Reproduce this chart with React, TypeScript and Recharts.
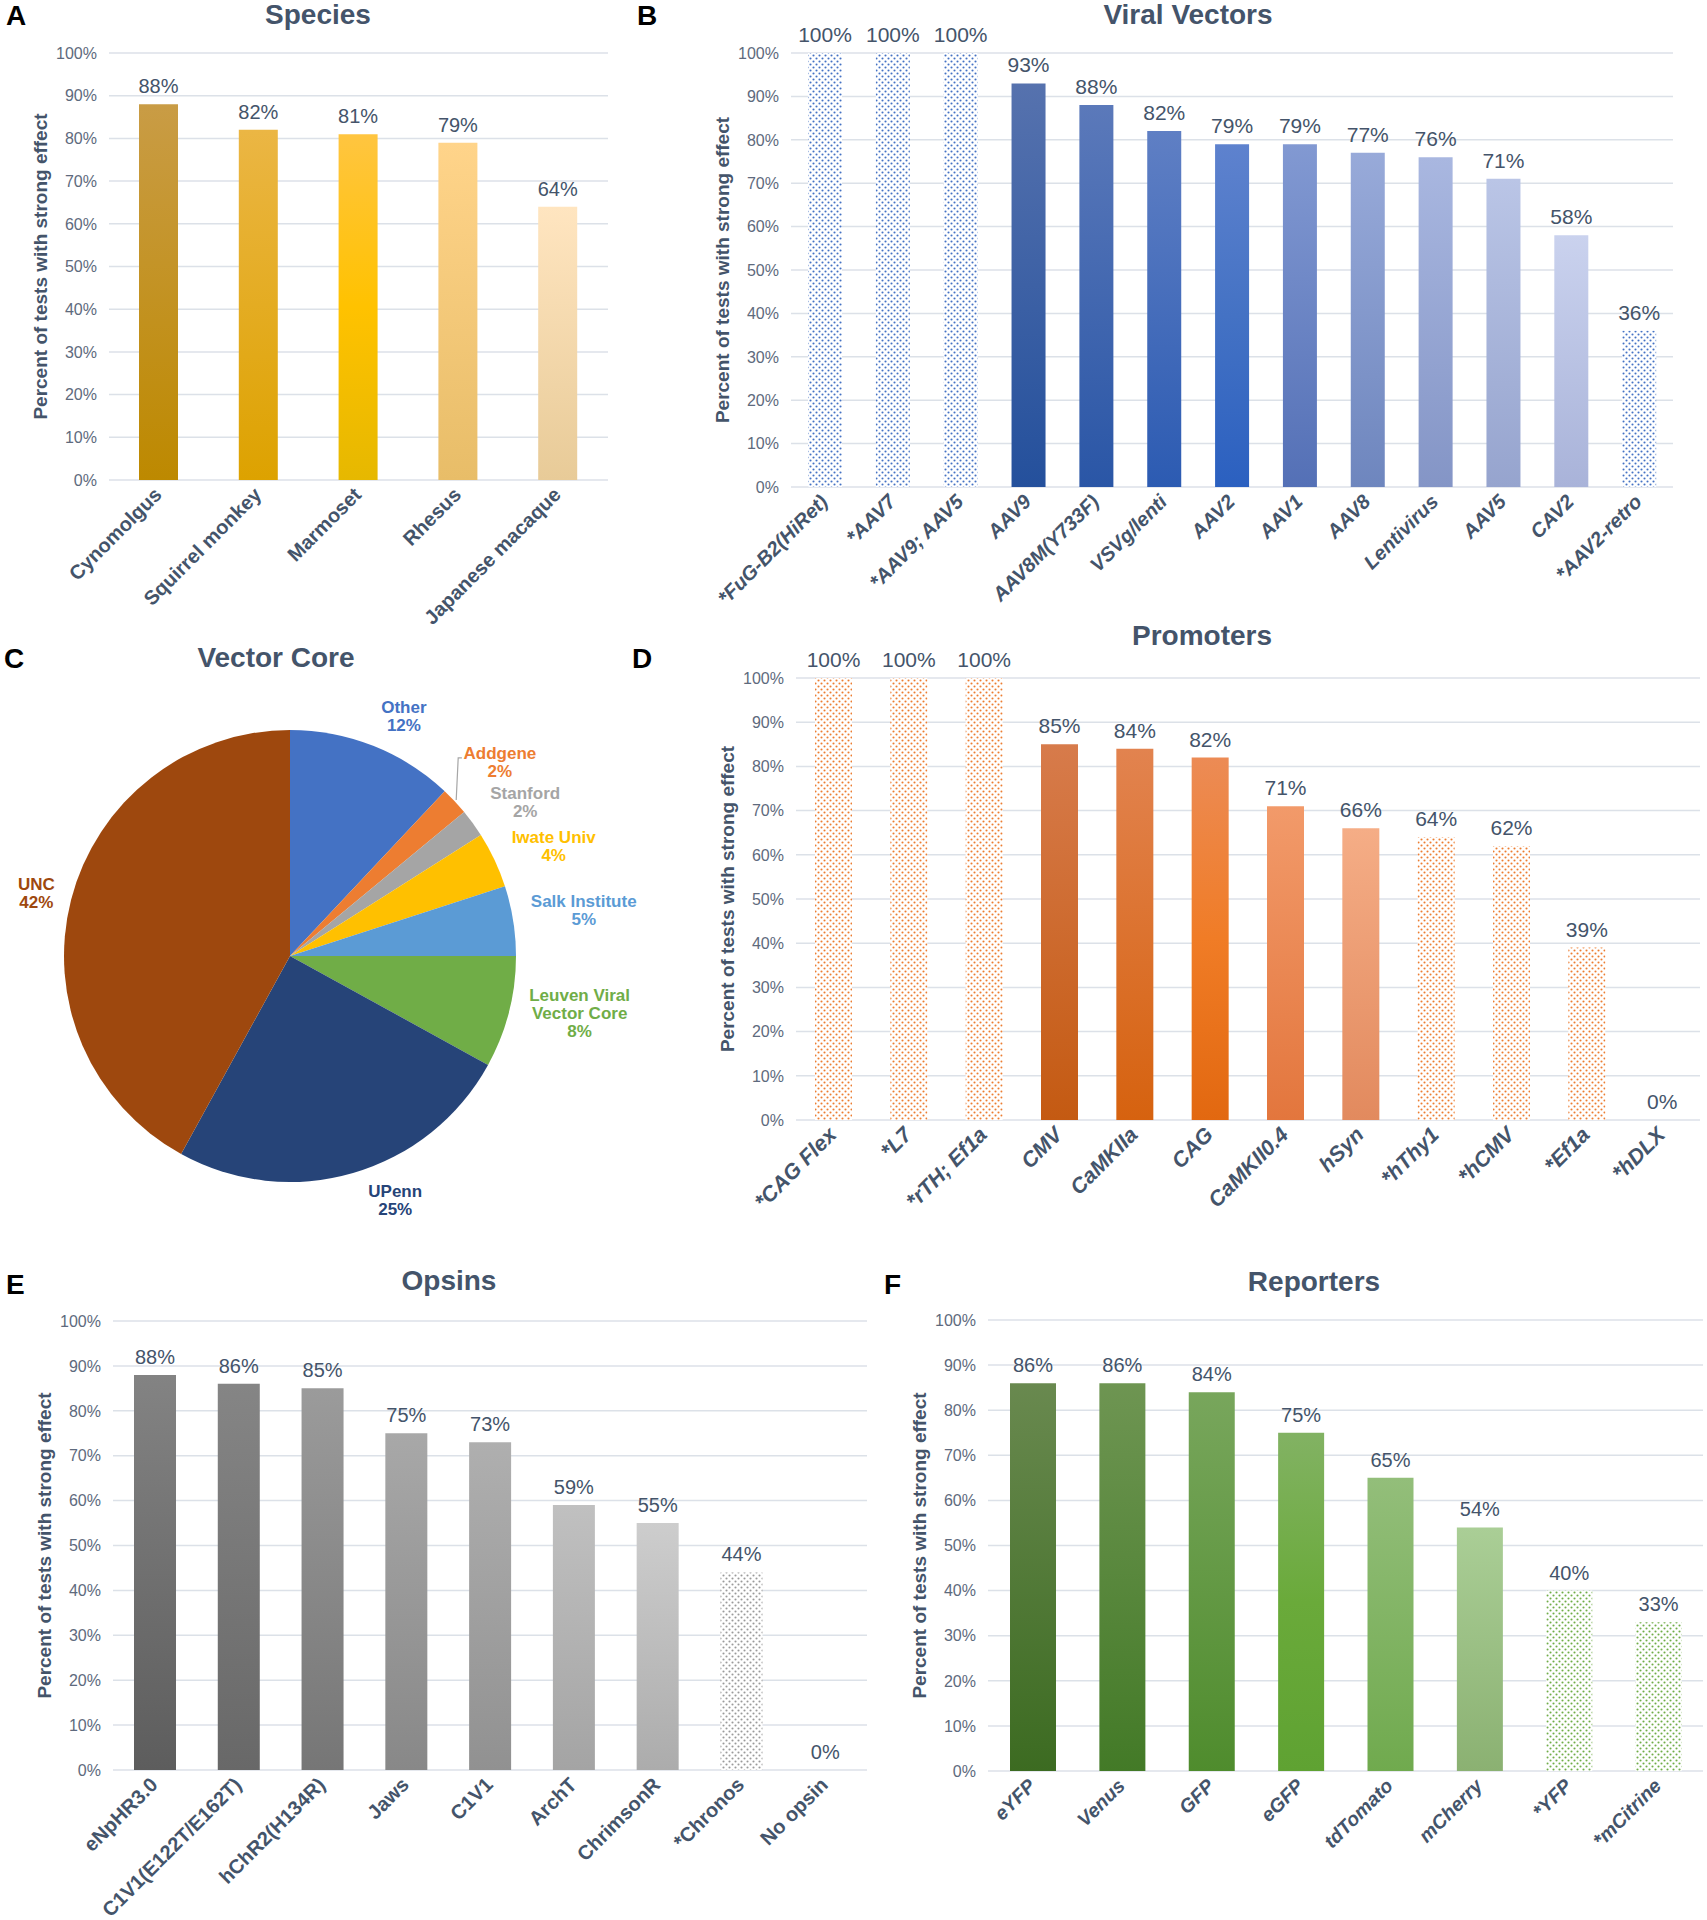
import React from "react";
import { BarChart, Bar, XAxis, YAxis, CartesianGrid, Cell, LabelList, PieChart, Pie } from "recharts";

const FONT = '"Liberation Sans", Arial, sans-serif';
const TEXT = "#44546A";
const TICK = "#5E6A7D";
const GRID = "#DCE1E8";

// ---- data ----
const yTicks = [0, 10, 20, 30, 40, 50, 60, 70, 80, 90, 100];

const speciesNames = ["Cynomolgus", "Squirrel monkey", "Marmoset", "Rhesus", "Japanese macaque"];
const speciesValues = [88, 82, 81, 79, 64];

const vectorNames = [
    "*FuG-B2(HiRet)", "*AAV7", "*AAV9; AAV5", "AAV9", "AAV8M(Y733F)", "VSVg/lenti",
    "AAV2", "AAV1", "AAV8", "Lentivirus", "AAV5", "CAV2", "*AAV2-retro",
];
const vectorValues = [100, 100, 100, 93, 88, 82, 79, 79, 77, 76, 71, 58, 36];

const coreNames = ["Other", "Addgene", "Stanford", "Iwate Univ", "Salk Institute", "Leuven Viral\nVector Core", "UPenn", "UNC"];
const coreValues = [12, 2, 2, 4, 5, 8, 25, 42];

const promoterNames = [
    "*CAG Flex", "*L7", "*rTH; Ef1a", "CMV", "CaMKIIa", "CAG", "CaMKII0.4",
    "hSyn", "*hThy1", "*hCMV", "*Ef1a", "*hDLX",
];
const promoterValues = [100, 100, 100, 85, 84, 82, 71, 66, 64, 62, 39, 0];

const opsinNames = ["eNpHR3.0", "C1V1(E122T/E162T)", "hChR2(H134R)", "Jaws", "C1V1", "ArchT", "ChrimsonR", "*Chronos", "No opsin"];
const opsinValues = [88, 86, 85, 75, 73, 59, 55, 44, 0];

const reporterNames = ["eYFP", "Venus", "GFP", "eGFP", "tdTomato", "mCherry", "*YFP", "*mCitrine"];
const reporterValues = [86, 86, 84, 75, 65, 54, 40, 33];

// ---- styles (gradient stops top -> bottom for the solid bars, in order) ----
const speciesColors = [
    ["#C99C45", "#BD8900"],
    ["#EBB644", "#DDA200"],
    ["#FFC540", "#FFC200", "#E6B800"],
    ["#FFD48A", "#E8BD68"],
    ["#FFE5C0", "#E8CB98"],
];
const vectorColors = [
    ["#5672AE", "#24509C"],
    ["#5B79BA", "#2A56A6"],
    ["#5F7FC4", "#2C5BB2"],
    ["#5E82CE", "#4472C4", "#2B60C0"],
    ["#8299D2", "#5470B6"],
    ["#98AAD9", "#6E86BE"],
    ["#A9B7E0", "#8495C6"],
    ["#BAC5E6", "#96A4CE"],
    ["#CAD2EE", "#A9B3D9"],
];
const promoterColors = [
    ["#D77B4B", "#C45A12"],
    ["#E2834F", "#D6620F"],
    ["#EC8B55", "#F07C26", "#E26810"],
    ["#F29A6A", "#E3763D"],
    ["#F5AD86", "#E28A5E"],
];
const opsinColors = [
    ["#838383", "#5D5D5D"],
    ["#858585", "#686868"],
    ["#9B9B9B", "#767676"],
    ["#A8A8A8", "#888888"],
    ["#AFAFAF", "#919191"],
    ["#C0C0C0", "#A4A4A4"],
    ["#CDCDCD", "#ACACAC"],
];
const reporterColors = [
    ["#69894F", "#3C6B21"],
    ["#6E9552", "#437A27"],
    ["#78A65C", "#4F8C2D"],
    ["#82B263", "#6AAA3A", "#5FA232"],
    ["#93BE7A", "#70AA4E"],
    ["#AACE96", "#8BB172"],
];
const pieColors = ["#4472C4", "#ED7D31", "#A5A5A5", "#FFC000", "#5B9BD5", "#70AD47", "#264478", "#9E480E"];
const pieLabelNudge = [[16, 7], [16, -12], [20, 2], [23, 3], [31, -4], [32, -9], [31, -11], [4, 3]];

const XTick = ({ x, y, payload, italic, size }: any) => (
    <text
        transform={`translate(${x + 4},${y + 16}) rotate(-45)`}
        textAnchor="end"
        fill={TEXT}
        fontSize={size}
        fontWeight="bold"
        fontStyle={italic ? "italic" : "normal"}
        fontFamily={FONT}
    >
        {payload.value}
    </text>
);

const YTick = ({ x, y, payload }: any) => (
    <text x={x} y={y} dy={5.7} textAnchor="end" fill={TICK} fontSize={16} fontFamily={FONT}>
        {payload.value}%
    </text>
);

type Plot = { x0: number; y0: number; x1: number; y1: number };

function BarPanel({ id, names, values, colors, dotColor, plot, barSize, valueFont, italic, tickFont }: any) {
    const data = names.map((n: string, i: number) => ({ name: n, value: values[i] }));
    const yw = 90, mt = 50, mr = 2, xh = 150;
    const p: Plot = plot;
    const left = p.x0 - yw;
    const top = p.y0 - mt;
    const width = p.x1 - left + mr;
    const height = p.y1 - top + xh;
    let k = 0;
    const fills = names.map((n: string) => {
        if (n.startsWith("*")) return `url(#${id}-dots)`;
        const f = k < colors.length ? `url(#${id}-g${k})` : "transparent";
        k++;
        return f;
    });

    return (
        <div style={{ position: "absolute", left, top, width, height }}>
            <BarChart width={width} height={height} data={data} margin={{ top: mt, right: mr, bottom: 0, left: 0 }}>
                <defs>
                    <pattern id={`${id}-dots`} width={6} height={6} patternUnits="userSpaceOnUse">
                        <rect width={6} height={6} fill="#fff" />
                        <circle cx={1.5} cy={1.5} r={1.05} fill={dotColor} />
                        <circle cx={4.5} cy={4.5} r={1.05} fill={dotColor} />
                    </pattern>
                    {colors.map((stops: string[], i: number) => (
                        <linearGradient key={i} id={`${id}-g${i}`} x1="0" y1="0" x2="0" y2="1">
                            {stops.map((c, j) => (
                                <stop key={j} offset={j / (stops.length - 1)} stopColor={c} />
                            ))}
                        </linearGradient>
                    ))}
                </defs>
                <CartesianGrid vertical={false} stroke={GRID} strokeWidth={1.5} />
                <XAxis
                    dataKey="name"
                    interval={0}
                    height={xh}
                    tickSize={0}
                    tickMargin={0}
                    axisLine={false}
                    tickLine={false}
                    tick={(props: any) => <XTick {...props} italic={italic} size={tickFont} />}
                />
                <YAxis
                    type="number"
                    domain={[0, 100]}
                    ticks={yTicks}
                    width={yw}
                    axisLine={false}
                    tickLine={false}
                    tickSize={0}
                    tickMargin={12}
                    tick={(props: any) => <YTick {...props} />}
                />
                <Bar
                    dataKey="value"
                    barSize={barSize}
                    minPointSize={(v: any) => (v === 0 ? 0.01 : 0)}
                    isAnimationActive={false}
                >
                    {data.map((_: any, i: number) => (
                        <Cell key={i} fill={fills[i]} />
                    ))}
                    <LabelList
                        dataKey="value"
                        position="top"
                        offset={11}
                        formatter={(v: any) => `${v}%`}
                        fill={TEXT}
                        fontSize={valueFont}
                        fontFamily={FONT}
                    />
                </Bar>
            </BarChart>
        </div>
    );
}

const RAD = Math.PI / 180;

const renderPieLabel = (props: any) => {
    const { cx, cy, midAngle, outerRadius, index, value } = props;
    const r = outerRadius + 40;
    const [nx, ny] = pieLabelNudge[index];
    const lx = cx + r * Math.cos(-midAngle * RAD) + nx;
    const ly = cy + r * Math.sin(-midAngle * RAD) + ny;
    const lines = [...coreNames[index].split("\n"), `${value}%`];
    const lh = 18;
    const y0 = ly - ((lines.length - 1) * lh) / 2;
    const color = pieColors[index];
    let leader = null;
    if (coreNames[index] === "Addgene") {
        const ex = cx + (outerRadius + 2) * Math.cos(-midAngle * RAD);
        const ey = cy + (outerRadius + 2) * Math.sin(-midAngle * RAD);
        leader = (
            <polyline
                points={`${ex},${ey} ${ex + 2},${y0 + 5} ${lx - 38},${y0 + 5}`}
                fill="none"
                stroke="#A6A6A6"
                strokeWidth={1.2}
            />
        );
    }
    return (
        <g key={`pl-${index}`}>
            {leader}
            <text textAnchor="middle" fill={color} fontSize={17} fontWeight="bold" fontFamily={FONT}>
                {lines.map((t, i) => (
                    <tspan key={i} x={lx} y={y0 + i * lh} dy="0.35em">
                        {t}
                    </tspan>
                ))}
            </text>
        </g>
    );
};

const titles = [
    { t: "Species", x: 318, y: 24 },
    { t: "Viral Vectors", x: 1188, y: 24 },
    { t: "Vector Core", x: 276, y: 667 },
    { t: "Promoters", x: 1202, y: 645 },
    { t: "Opsins", x: 449, y: 1290 },
    { t: "Reporters", x: 1314, y: 1291 },
];
const letters = [
    { t: "A", x: 6, y: 25 },
    { t: "B", x: 637, y: 25 },
    { t: "C", x: 4, y: 668 },
    { t: "D", x: 632, y: 668 },
    { t: "E", x: 6, y: 1294 },
    { t: "F", x: 884, y: 1294 },
];

const plotA = { x0: 109, y0: 53, x1: 608, y1: 480 };
const plotB = { x0: 791, y0: 53, x1: 1673, y1: 487 };
const plotD = { x0: 796, y0: 678, x1: 1700, y1: 1120 };
const plotE = { x0: 113, y0: 1321, x1: 867, y1: 1770 };
const plotF = { x0: 988, y0: 1320, x1: 1703, y1: 1771 };
const plots = [plotA, plotB, plotD, plotE, plotF];

export default function App() {
    const pieData = coreNames.map((n, i) => ({ name: n, value: coreValues[i] }));
    return (
        <div style={{ position: "absolute", left: 0, top: 0, width: 1707, height: 1920, background: "#fff", fontFamily: FONT }}>
            <svg width={1707} height={1920} style={{ position: "absolute", left: 0, top: 0 }}>
                {letters.map((l) => (
                    <text key={l.t} x={l.x} y={l.y} fontSize={28} fontWeight="bold" fill="#000" fontFamily={FONT}>
                        {l.t}
                    </text>
                ))}
                {titles.map((l) => (
                    <text key={l.t} x={l.x} y={l.y} textAnchor="middle" fontSize={28} fontWeight="bold" fill={TEXT} fontFamily={FONT}>
                        {l.t}
                    </text>
                ))}
                {plots.map((p, i) => (
                    <text
                        key={i}
                        transform={`translate(${p.x0 - 69},${(p.y0 + p.y1) / 2}) rotate(-90)`}
                        dy="0.35em"
                        textAnchor="middle"
                        fontSize={19}
                        fontWeight="bold"
                        fill={TEXT}
                        fontFamily={FONT}
                    >
                        Percent of tests with strong effect
                    </text>
                ))}
            </svg>

            <BarPanel id="sp" names={speciesNames} values={speciesValues} colors={speciesColors} dotColor="#FFC000"
                plot={plotA} barSize={39} valueFont={20} italic={false} tickFont={20} />
            <BarPanel id="vv" names={vectorNames} values={vectorValues} colors={vectorColors} dotColor="#4472C4"
                plot={plotB} barSize={34} valueFont={21} italic={true} tickFont={20} />
            <BarPanel id="pr" names={promoterNames} values={promoterValues} colors={promoterColors} dotColor="#ED7D31"
                plot={plotD} barSize={37} valueFont={21} italic={true} tickFont={21.5} />
            <BarPanel id="op" names={opsinNames} values={opsinValues} colors={opsinColors} dotColor="#9A9A9A"
                plot={plotE} barSize={42} valueFont={20} italic={false} tickFont={20} />
            <BarPanel id="rp" names={reporterNames} values={reporterValues} colors={reporterColors} dotColor="#70AD47"
                plot={plotF} barSize={46} valueFont={20} italic={true} tickFont={19.5} />

            <div style={{ position: "absolute", left: 0, top: 640, width: 686, height: 600 }}>
                <PieChart width={686} height={600} margin={{ top: 0, right: 0, bottom: 0, left: 0 }}>
                    <Pie
                        data={pieData}
                        dataKey="value"
                        nameKey="name"
                        cx={290}
                        cy={316}
                        outerRadius={226}
                        startAngle={90}
                        endAngle={-270}
                        stroke="none"
                        label={renderPieLabel}
                        labelLine={false}
                        isAnimationActive={false}
                    >
                        {pieData.map((_, i) => (
                            <Cell key={i} fill={pieColors[i]} />
                        ))}
                    </Pie>
                </PieChart>
            </div>
        </div>
    );
}
